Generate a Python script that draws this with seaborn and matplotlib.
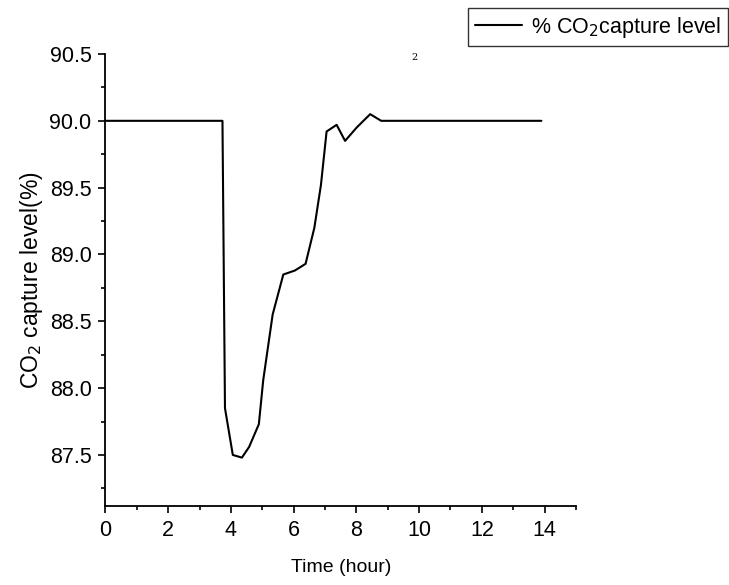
import matplotlib
matplotlib.use("Agg")
import matplotlib.pyplot as plt
from matplotlib.ticker import MultipleLocator
import pandas as pd
import seaborn as sns

# Capture level over time
time_h = [0.0, 3.73, 3.81, 4.06, 4.35, 4.58, 4.89, 5.03, 5.33, 5.67, 6.04,
          6.38, 6.66, 6.87, 7.05, 7.37, 7.64, 8.01, 8.44, 8.79, 13.9]
capture = [90.0, 90.0, 87.85, 87.50, 87.48, 87.56, 87.73, 88.06, 88.55, 88.85, 88.88,
           88.93, 89.20, 89.52, 89.92, 89.97, 89.85, 89.95, 90.05, 90.0, 90.0]

x_major = [0, 2, 4, 6, 8, 10, 12, 14]
y_major = [87.5, 88.0, 88.5, 89.0, 89.5, 90.0, 90.5]

df = pd.DataFrame({"time": time_h, "capture": capture})

sns.set_style("ticks")
plt.rcParams["font.family"] = ["Liberation Sans", "DejaVu Sans"]
plt.rcParams["text.color"] = "black"
plt.rcParams["axes.labelcolor"] = "black"

fig = plt.figure(figsize=(7.29, 5.85), dpi=100)
ax = fig.add_axes([0.1447, 0.1355, 0.6453, 0.7722])

sns.lineplot(data=df, x="time", y="capture", ax=ax, color="black", lw=1.5,
             label="% CO$_2$capture level", legend=False)

ax.set_xlim(0, 15)
ax.set_ylim(87.12, 90.5)
ax.set_xticks(x_major)
ax.set_yticks(y_major)
ax.set_yticklabels([f"{v:.1f}" for v in y_major])
ax.xaxis.set_minor_locator(MultipleLocator(1))
ax.yaxis.set_minor_locator(MultipleLocator(0.25))
ax.tick_params(which="major", direction="out", length=5, width=1.2, labelsize=15.5,
               colors="black", pad=5)
ax.tick_params(which="minor", direction="out", length=3, width=1.2, colors="black")
for side in ("top", "right"):
    ax.spines[side].set_visible(False)
for side in ("left", "bottom"):
    ax.spines[side].set_linewidth(1.3)
    ax.spines[side].set_color("black")

ax.set_xlabel("Time (hour)", fontsize=14, labelpad=13)
ax.set_ylabel("CO$_2$ capture level(%)", fontsize=16.5, labelpad=3)

leg = fig.legend(loc="upper right", bbox_to_anchor=(0.998, 0.986), fontsize=15.5,
                 frameon=True, fancybox=False, handlelength=2.2, handletextpad=0.4,
                 borderpad=0.3, borderaxespad=0)
leg.get_frame().set_edgecolor("black")
leg.get_frame().set_linewidth(1.0)

fig.text(0.569, 0.902, "2", fontsize=7, family="DejaVu Serif", ha="center", va="center")

fig.savefig("out.png", dpi=100)
